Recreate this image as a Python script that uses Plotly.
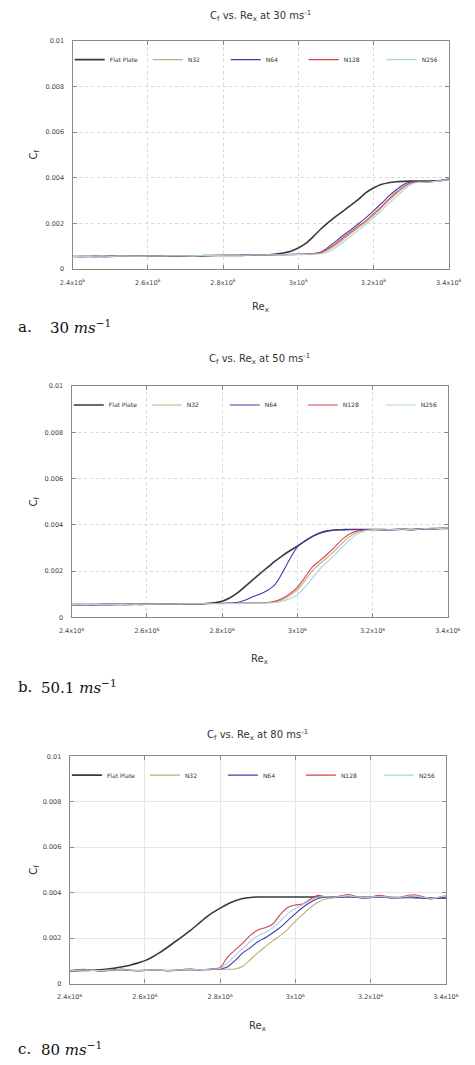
import plotly.graph_objects as go

# Re_x grid (in units of 10^6)
re_x = [2.40, 2.42, 2.44, 2.46, 2.48, 2.50, 2.52, 2.54, 2.56, 2.58,
        2.60, 2.62, 2.64, 2.66, 2.68, 2.70, 2.72, 2.74, 2.76, 2.78,
        2.80, 2.82, 2.84, 2.86, 2.88, 2.90, 2.92, 2.94, 2.96, 2.98,
        3.00, 3.02, 3.04, 3.06, 3.08, 3.10, 3.12, 3.14, 3.16, 3.18,
        3.20, 3.22, 3.24, 3.26, 3.28, 3.30, 3.32, 3.34, 3.36, 3.38, 3.40]

# Cf values in units of 10^-3
# ---- 30 m/s ----
flat_30 = [0.55, 0.55, 0.55, 0.55, 0.55, 0.56, 0.56, 0.56, 0.56, 0.56,
           0.57, 0.57, 0.57, 0.57, 0.58, 0.58, 0.58, 0.58, 0.59, 0.59,
           0.59, 0.59, 0.59, 0.60, 0.60, 0.61, 0.62, 0.65, 0.70, 0.78,
           0.92, 1.12, 1.42, 1.75, 2.04, 2.30, 2.55, 2.80, 3.05, 3.35,
           3.55, 3.70, 3.78, 3.82, 3.84, 3.85, 3.85, 3.85, 3.86, 3.88, 3.92]
n32_30 = [0.55, 0.55, 0.56, 0.55, 0.55, 0.56, 0.57, 0.56, 0.56, 0.57,
          0.57, 0.57, 0.58, 0.58, 0.57, 0.58, 0.58, 0.59, 0.59, 0.59,
          0.60, 0.60, 0.60, 0.61, 0.61, 0.62, 0.62, 0.63, 0.63, 0.64,
          0.64, 0.65, 0.67, 0.70, 0.84, 1.05, 1.30, 1.56, 1.82, 2.06,
          2.35, 2.66, 2.98, 3.28, 3.56, 3.76, 3.82, 3.80, 3.83, 3.86, 3.95]
n64_30 = [0.56, 0.54, 0.55, 0.57, 0.55, 0.54, 0.56, 0.57, 0.55, 0.56,
          0.57, 0.56, 0.58, 0.57, 0.56, 0.58, 0.59, 0.57, 0.58, 0.59,
          0.60, 0.59, 0.60, 0.61, 0.60, 0.62, 0.61, 0.62, 0.63, 0.63,
          0.64, 0.65, 0.66, 0.74, 0.96, 1.22, 1.48, 1.72, 1.98, 2.25,
          2.55, 2.86, 3.18, 3.46, 3.70, 3.82, 3.83, 3.81, 3.84, 3.88, 3.96]
n128_30 = [0.55, 0.56, 0.55, 0.54, 0.56, 0.57, 0.55, 0.56, 0.57, 0.56,
           0.56, 0.58, 0.57, 0.57, 0.58, 0.57, 0.59, 0.58, 0.58, 0.60,
           0.59, 0.60, 0.60, 0.61, 0.61, 0.62, 0.62, 0.63, 0.63, 0.64,
           0.64, 0.66, 0.68, 0.72, 0.90, 1.12, 1.38, 1.62, 1.88, 2.12,
           2.42, 2.72, 3.05, 3.35, 3.62, 3.78, 3.82, 3.80, 3.83, 3.86, 3.94]
n256_30 = [0.55, 0.55, 0.55, 0.56, 0.56, 0.55, 0.56, 0.57, 0.56, 0.56,
           0.57, 0.57, 0.57, 0.58, 0.58, 0.58, 0.58, 0.59, 0.59, 0.59,
           0.60, 0.60, 0.60, 0.60, 0.61, 0.61, 0.62, 0.62, 0.62, 0.63,
           0.63, 0.64, 0.65, 0.67, 0.76, 0.94, 1.18, 1.44, 1.70, 1.96,
           2.24, 2.54, 2.86, 3.16, 3.46, 3.70, 3.80, 3.80, 3.83, 3.86, 3.98]

# ---- 50 m/s ----
flat_50 = [0.55, 0.55, 0.55, 0.55, 0.56, 0.56, 0.56, 0.56, 0.56, 0.57,
           0.57, 0.57, 0.57, 0.58, 0.58, 0.58, 0.59, 0.59, 0.60, 0.63,
           0.70, 0.84, 1.05, 1.32, 1.60, 1.88, 2.15, 2.42, 2.66, 2.88,
           3.08, 3.30, 3.50, 3.65, 3.74, 3.78, 3.79, 3.80, 3.80, 3.80,
           3.80, 3.80, 3.79, 3.80, 3.81, 3.80, 3.82, 3.83, 3.84, 3.84, 3.85]
n32_50 = [0.55, 0.55, 0.56, 0.55, 0.55, 0.56, 0.56, 0.57, 0.56, 0.57,
          0.57, 0.58, 0.57, 0.58, 0.58, 0.59, 0.58, 0.59, 0.59, 0.60,
          0.60, 0.60, 0.61, 0.61, 0.62, 0.62, 0.63, 0.67, 0.76, 0.94,
          1.20, 1.58, 2.02, 2.32, 2.60, 2.90, 3.22, 3.50, 3.68, 3.77,
          3.80, 3.79, 3.78, 3.80, 3.82, 3.79, 3.80, 3.84, 3.82, 3.85, 3.86]
n64_50 = [0.56, 0.54, 0.55, 0.56, 0.55, 0.54, 0.56, 0.55, 0.57, 0.55,
          0.56, 0.57, 0.56, 0.58, 0.57, 0.58, 0.59, 0.58, 0.60, 0.60,
          0.61, 0.62, 0.64, 0.74, 0.88, 1.00, 1.16, 1.40, 1.92, 2.52,
          3.05, 3.30, 3.50, 3.65, 3.74, 3.78, 3.79, 3.80, 3.80, 3.80,
          3.80, 3.79, 3.77, 3.79, 3.82, 3.78, 3.80, 3.84, 3.81, 3.85, 3.86]
n128_50 = [0.55, 0.56, 0.55, 0.54, 0.56, 0.56, 0.55, 0.57, 0.56, 0.56,
           0.57, 0.57, 0.58, 0.57, 0.58, 0.58, 0.59, 0.59, 0.60, 0.60,
           0.60, 0.61, 0.61, 0.62, 0.62, 0.63, 0.64, 0.70, 0.82, 1.02,
           1.30, 1.72, 2.18, 2.45, 2.74, 3.05, 3.38, 3.62, 3.74, 3.78,
           3.80, 3.79, 3.78, 3.80, 3.82, 3.79, 3.80, 3.84, 3.82, 3.85, 3.86]
n256_50 = [0.55, 0.55, 0.55, 0.56, 0.56, 0.55, 0.56, 0.56, 0.57, 0.57,
           0.57, 0.57, 0.58, 0.58, 0.58, 0.59, 0.59, 0.59, 0.59, 0.59,
           0.59, 0.60, 0.60, 0.61, 0.61, 0.62, 0.62, 0.64, 0.70, 0.80,
           0.98, 1.30, 1.70, 2.10, 2.40, 2.70, 3.05, 3.35, 3.60, 3.74,
           3.79, 3.79, 3.78, 3.80, 3.82, 3.79, 3.81, 3.84, 3.82, 3.85, 3.87]

# ---- 80 m/s ----
flat_80 = [0.56, 0.57, 0.58, 0.59, 0.61, 0.64, 0.68, 0.74, 0.81, 0.90,
           1.01, 1.17, 1.37, 1.60, 1.84, 2.08, 2.33, 2.60, 2.88, 3.12,
           3.32, 3.50, 3.64, 3.74, 3.79, 3.81, 3.81, 3.81, 3.81, 3.81,
           3.81, 3.81, 3.81, 3.81, 3.81, 3.81, 3.81, 3.81, 3.80, 3.80,
           3.80, 3.80, 3.80, 3.79, 3.79, 3.79, 3.78, 3.78, 3.77, 3.77, 3.76]
n32_80 = [0.57, 0.58, 0.59, 0.58, 0.57, 0.58, 0.60, 0.59, 0.58, 0.58,
          0.59, 0.60, 0.59, 0.58, 0.59, 0.60, 0.60, 0.61, 0.61, 0.62,
          0.62, 0.63, 0.64, 0.76, 1.05, 1.35, 1.62, 1.88, 2.12, 2.40,
          2.75, 3.05, 3.35, 3.58, 3.72, 3.78, 3.80, 3.82, 3.80, 3.78,
          3.78, 3.80, 3.80, 3.76, 3.78, 3.80, 3.80, 3.77, 3.75, 3.76, 3.78]
n64_80 = [0.57, 0.58, 0.60, 0.58, 0.56, 0.57, 0.59, 0.61, 0.58, 0.57,
          0.58, 0.60, 0.59, 0.57, 0.58, 0.60, 0.61, 0.60, 0.61, 0.62,
          0.64, 0.74, 1.02, 1.35, 1.58, 1.84, 2.02, 2.24, 2.48, 2.78,
          3.08, 3.36, 3.58, 3.74, 3.80, 3.78, 3.80, 3.84, 3.80, 3.76,
          3.78, 3.82, 3.80, 3.75, 3.78, 3.82, 3.80, 3.76, 3.74, 3.76, 3.78]
n128_80 = [0.58, 0.61, 0.63, 0.59, 0.55, 0.58, 0.62, 0.64, 0.60, 0.56,
           0.58, 0.62, 0.60, 0.56, 0.58, 0.62, 0.65, 0.61, 0.62, 0.66,
           0.70, 1.18, 1.48, 1.78, 2.12, 2.36, 2.46, 2.62, 3.05, 3.36,
           3.46, 3.50, 3.72, 3.88, 3.82, 3.80, 3.86, 3.92, 3.84, 3.76,
           3.80, 3.88, 3.84, 3.76, 3.80, 3.88, 3.90, 3.82, 3.72, 3.80, 3.86]
n256_80 = [0.57, 0.59, 0.60, 0.58, 0.57, 0.59, 0.60, 0.61, 0.59, 0.58,
           0.59, 0.60, 0.60, 0.58, 0.59, 0.61, 0.62, 0.61, 0.62, 0.64,
           0.66, 0.92, 1.25, 1.55, 1.85, 2.10, 2.26, 2.45, 2.75, 3.08,
           3.30, 3.48, 3.66, 3.80, 3.82, 3.80, 3.83, 3.86, 3.82, 3.78,
           3.80, 3.84, 3.82, 3.77, 3.80, 3.85, 3.85, 3.80, 3.75, 3.80, 3.84]

series_names = ["Flat Plate", "N32", "N64", "N128", "N256"]
speeds = ["30", "50", "80"]
captions = [("a.", "30"), ("b.", "50.1"), ("c.", "80")]
panel_data = [
    [flat_30, n32_30, n64_30, n128_30, n256_30],
    [flat_50, n32_50, n64_50, n128_50, n256_50],
    [flat_80, n32_80, n64_80, n128_80, n256_80],
]

x_tickvals = [2.4e6, 2.6e6, 2.8e6, 3.0e6, 3.2e6, 3.4e6]
x_ticktext = ["2.4x10<sup>6</sup>", "2.6x10<sup>6</sup>", "2.8x10<sup>6</sup>",
              "3x10<sup>6</sup>", "3.2x10<sup>6</sup>", "3.4x10<sup>6</sup>"]
y_tickvals = [0, 0.002, 0.004, 0.006, 0.008, 0.01]
y_ticktext = ["0", "0.002", "0.004", "0.006", "0.008", "0.01"]

colors = ["#3a3a3a", "#c2ae72", "#3c3cb0", "#d8434e", "#a9d3e3"]
widths = [1.6, 1.1, 1.1, 1.1, 1.1]

W, H = 475, 1065
# pixel layout of each panel: left, right, top, bottom
boxes = [(63, 461, 37, 267), (62, 460, 385, 618), (60, 458, 758, 987)]
title_y = [12, 358, 737]
rex_y = [306, 660, 1030]
cap_y = [325, 688, 1053]
cap_num_x = [37, 27, 27]


def px(x):
    return x / W


def py(y):
    return 1 - y / H


fig = go.Figure()
x_vals = [r * 1e6 for r in re_x]

for p in range(3):
    sfx = "" if p == 0 else str(p + 1)
    leg = "legend" if p == 0 else "legend" + str(p + 1)
    for s in range(5):
        fig.add_trace(go.Scatter(
            x=x_vals, y=[v * 1e-3 for v in panel_data[p][s]],
            mode="lines", name=series_names[s],
            line=dict(color=colors[s], width=widths[s], shape="spline", smoothing=0.6),
            xaxis="x" + sfx, yaxis="y" + sfx, legend=leg, showlegend=True,
        ))

layout = dict(
    width=W, height=H,
    margin=dict(l=0, r=0, t=0, b=0),
    paper_bgcolor="white", plot_bgcolor="white",
    font=dict(family="DejaVu Sans, Verdana", color="#333"),
    annotations=[],
)
for p in range(3):
    sfx = "" if p == 0 else str(p + 1)
    l, r, t, b = boxes[p]
    griddash = "3px,3px" if p < 2 else "solid"
    gridcolor = "#d8d8d8" if p < 2 else "#e6e6e6"
    layout["xaxis" + sfx] = dict(
        domain=[px(l), px(r)], anchor="y" + sfx, range=[2.4e6, 3.4e6],
        tickvals=x_tickvals, ticktext=x_ticktext, tickfont=dict(size=6.5, color="#444"),
        ticklabelstandoff=7,
        showline=True, linecolor="#8a8a8a", linewidth=1.2, mirror="ticks",
        ticks="inside", ticklen=4, tickcolor="#8a8a8a",
        showgrid=True, gridcolor=gridcolor, griddash=griddash, gridwidth=1,
        zeroline=False, fixedrange=True,
    )
    layout["yaxis" + sfx] = dict(
        domain=[py(b), py(t)], anchor="x" + sfx, range=[0, 0.01],
        tickvals=y_tickvals, ticktext=y_ticktext, tickfont=dict(size=6.5, color="#444"),
        ticklabelstandoff=6,
        showline=True, linecolor="#8a8a8a", linewidth=1.2, mirror="ticks",
        ticks="inside", ticklen=4, tickcolor="#8a8a8a",
        showgrid=True, gridcolor=gridcolor, griddash=griddash, gridwidth=1,
        zeroline=False, fixedrange=True,
    )
    leg = "legend" if p == 0 else "legend" + str(p + 1)
    layout[leg] = dict(
        orientation="h", x=px(l - 3), y=py(t + 19), xanchor="left", yanchor="middle",
        font=dict(size=6, color="#333"), bgcolor="rgba(0,0,0,0)",
        entrywidth=33, entrywidthmode="pixels", itemwidth=30,
    )
    cx = px((l + r) / 2)
    layout["annotations"] += [
        dict(text="C<sub>f</sub> vs. Re<sub>x</sub> at " + speeds[p] + " ms<sup>-1</sup>",
             x=cx, y=py(title_y[p]), xref="paper", yref="paper", showarrow=False,
             xanchor="center", yanchor="middle", font=dict(size=10, color="#333")),
        dict(text="Re<sub>x</sub>", x=cx, y=py(rex_y[p]), xref="paper", yref="paper",
             showarrow=False, xanchor="center", yanchor="middle", font=dict(size=10, color="#333")),
        dict(text="C<sub>f</sub>", x=px(23), y=py((t + b) / 2), xref="paper", yref="paper",
             showarrow=False, xanchor="center", yanchor="middle", textangle=-90,
             font=dict(size=10, color="#333")),
        dict(text=captions[p][0], x=px(3), y=py(cap_y[p]), xref="paper", yref="paper",
             showarrow=False, xanchor="left", yanchor="middle",
             font=dict(size=15, color="#111", family="DejaVu Serif, Liberation Serif")),
        dict(text=captions[p][1] + " <i>ms</i><sup>−1</sup>", x=px(cap_num_x[p]),
             y=py(cap_y[p]), xref="paper", yref="paper",
             showarrow=False, xanchor="left", yanchor="middle",
             font=dict(size=15, color="#111", family="DejaVu Serif, Liberation Serif")),
    ]

fig.update_layout(**layout)
fig.write_html("out.html", config={"displayModeBar": False},
               post_script="document.body.style.margin='0';")
